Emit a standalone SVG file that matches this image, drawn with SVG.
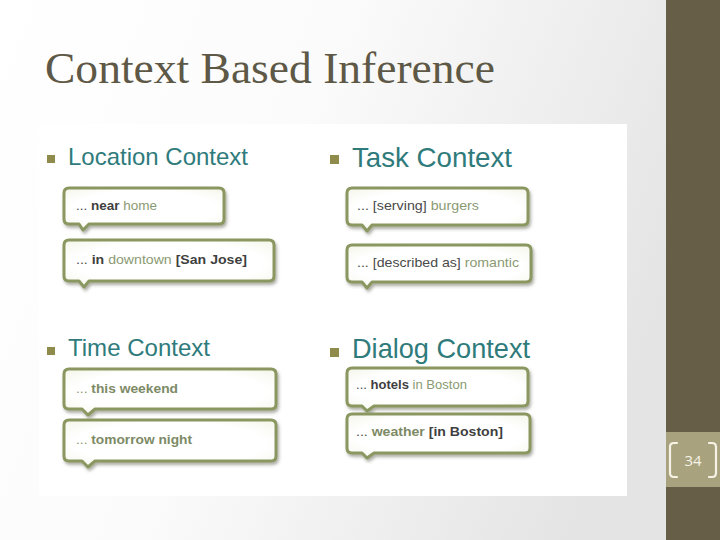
<svg xmlns="http://www.w3.org/2000/svg" width="720" height="540" viewBox="0 0 720 540">
<defs>
<linearGradient id="bg" x1="0" y1="0" x2="1" y2="0.3">
<stop offset="0" stop-color="#ffffff"/>
<stop offset="0.45" stop-color="#fbfbfb"/>
<stop offset="1" stop-color="#e4e4e4"/>
</linearGradient>
<radialGradient id="bfill" cx="0.5" cy="0.5" r="0.75">
<stop offset="0.6" stop-color="#ffffff"/>
<stop offset="1" stop-color="#f1f4e4"/>
</radialGradient>
<filter id="sh" x="-10%" y="-20%" width="125%" height="160%">
<feDropShadow dx="1.5" dy="2.5" stdDeviation="1.6" flood-color="#4a4a3a" flood-opacity="0.45"/>
</filter>
<style>
.title{font-family:"Liberation Serif","DejaVu Serif",serif;font-size:44px;fill:#5e5846}
.head{font-family:"Liberation Sans",Arial,sans-serif;fill:#2f7b7c}
.bul{fill:#8e8b4b}
.bub{fill:url(#bfill);stroke:#8a9760;stroke-width:3;stroke-linejoin:round;filter:url(#sh)}
.bt{font-family:"Liberation Sans",Arial,sans-serif;font-size:13.5px;fill:#4a4a4a}
.b{font-weight:bold;fill:#3f3f3f}
.g{fill:#8a9a72}
.gb{fill:#7d8a66;font-weight:bold}
.num{font-family:"Open Sans","Liberation Sans",sans-serif;font-size:15px;fill:#f6f3e6}
.brk{fill:none;stroke:#f6f3e6;stroke-width:2.2;stroke-linecap:round}
</style>
</defs>
<rect x="0" y="0" width="720" height="540" fill="url(#bg)"/>
<rect x="666" y="0" width="54" height="540" fill="#665e47"/>
<rect x="39" y="124" width="588" height="372" fill="#ffffff"/>
<text class="title" x="45" y="83" textLength="450" lengthAdjust="spacingAndGlyphs">Context Based Inference</text>

<g id="location">
<rect class="bul" x="47" y="155" width="8" height="8"/>
<text class="head" x="68" y="165" font-size="24" textLength="180" lengthAdjust="spacingAndGlyphs">Location Context</text>
</g>
<g id="location-near-home">
<path class="bub" d="M69,188 H219 Q224,188 224,193 V219 Q224,224 219,224 H89 L83,230 L79,224 H69 Q64,224 64,219 V193 Q64,188 69,188 Z"/>
<text class="bt" x="76" y="210" textLength="81" lengthAdjust="spacingAndGlyphs">... <tspan class="b">near</tspan> <tspan class="g">home</tspan></text>
</g>
<g id="location-downtown">
<path class="bub" d="M69,240 H269 Q274,240 274,245 V276 Q274,281 269,281 H89 L84,287 L79,281 H69 Q64,281 64,276 V245 Q64,240 69,240 Z"/>
<text class="bt" x="76" y="264" textLength="171" lengthAdjust="spacingAndGlyphs">... <tspan class="b">in</tspan> <tspan class="g">downtown</tspan> <tspan class="b">[San Jose]</tspan></text>
</g>

<g id="task">
<rect class="bul" x="330" y="155" width="9" height="9"/>
<text class="head" x="352" y="167" font-size="27.5" textLength="160" lengthAdjust="spacingAndGlyphs">Task Context</text>
</g>
<g id="task-burgers">
<path class="bub" d="M352,188 H523 Q528,188 528,193 V220 Q528,225 523,225 H372 L367,231 L362,225 H352 Q347,225 347,220 V193 Q347,188 352,188 Z"/>
<text class="bt" x="357" y="210" textLength="122" lengthAdjust="spacingAndGlyphs">... [serving] <tspan class="g">burgers</tspan></text>
</g>
<g id="task-romantic">
<path class="bub" d="M352,245 H526 Q531,245 531,250 V277 Q531,282 526,282 H372 L367,288 L362,282 H352 Q347,282 347,277 V250 Q347,245 352,245 Z"/>
<text class="bt" x="357" y="267" textLength="162" lengthAdjust="spacingAndGlyphs">... [described as] <tspan class="g">romantic</tspan></text>
</g>

<g id="time">
<rect class="bul" x="47" y="347" width="8" height="8"/>
<text class="head" x="68" y="356" font-size="24" textLength="142" lengthAdjust="spacingAndGlyphs">Time Context</text>
</g>
<g id="time-weekend">
<path class="bub" d="M69,369 H271 Q276,369 276,374 V404 Q276,409 271,409 H95 L88,415 L82,409 H69 Q64,409 64,404 V374 Q64,369 69,369 Z"/>
<text class="bt" x="76" y="393" textLength="102" lengthAdjust="spacingAndGlyphs"><tspan class="g">... </tspan><tspan class="gb">this weekend</tspan></text>
</g>
<g id="time-tomorrow">
<path class="bub" d="M69,420 H271 Q276,420 276,425 V456 Q276,461 271,461 H95 L88,467 L82,461 H69 Q64,461 64,456 V425 Q64,420 69,420 Z"/>
<text class="bt" x="76" y="444" textLength="116" lengthAdjust="spacingAndGlyphs"><tspan class="g">... </tspan><tspan class="gb">tomorrow night</tspan></text>
</g>

<g id="dialog">
<rect class="bul" x="330" y="348" width="9" height="9"/>
<text class="head" x="352" y="358" font-size="27.5" textLength="178" lengthAdjust="spacingAndGlyphs">Dialog Context</text>
</g>
<g id="dialog-hotels">
<path class="bub" d="M352,368 H523 Q528,368 528,373 V401 Q528,406 523,406 H374 L367,411 L362,406 H352 Q347,406 347,401 V373 Q347,368 352,368 Z"/>
<text class="bt" x="356" y="389" textLength="111" lengthAdjust="spacingAndGlyphs">... <tspan class="b">hotels</tspan> <tspan class="g">in Boston</tspan></text>
</g>
<g id="dialog-weather">
<path class="bub" d="M352,414 H525 Q530,414 530,419 V448 Q530,453 525,453 H374 L367,458 L362,453 H352 Q347,453 347,448 V419 Q347,414 352,414 Z"/>
<text class="bt" x="356" y="436" textLength="147" lengthAdjust="spacingAndGlyphs">... <tspan class="gb">weather</tspan> <tspan class="b">[in Boston]</tspan></text>
</g>

<g id="page-number">
<rect x="666" y="432" width="54" height="55" fill="#a8a27e"/>
<path class="brk" d="M677,443 H674 Q670,443 670,447 V473 Q670,477 674,477 H677"/>
<path class="brk" d="M709,443 H712 Q716,443 716,447 V473 Q716,477 712,477 H709"/>
<text class="num" x="693" y="466" text-anchor="middle">34</text>
</g>
<g id="connectors"></g>
</svg>
